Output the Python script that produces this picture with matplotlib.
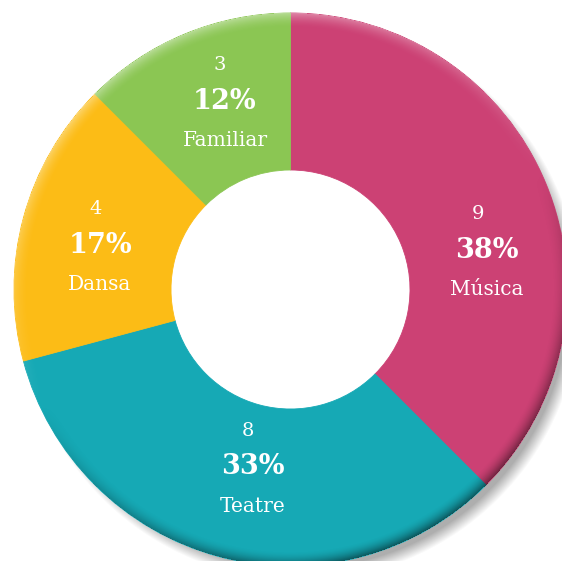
import matplotlib
matplotlib.use("Agg")
import matplotlib.pyplot as plt
import numpy as np

# data
categories = ["Música", "Teatre", "Dansa", "Familiar"]
counts = [9, 8, 4, 3]
percents = ["38%", "33%", "17%", "12%"]

colors = ["#CC4174", "#16A9B5", "#FCBC16", "#8BC653"]

W, H = 562, 561
cx, cy = 290.5, H - 289.5   # centre in data coords (y up)
R_out, R_in = 276.5, 119.5

# label anchor (centre line of the percentage), image coords
label_xy = [(487, 250), (253, 467), (100, 245), (225, 101)]
num_dx = [-9, -5, -4, -5]

fig = plt.figure(figsize=(W / 100, H / 100), dpi=100)
ax = fig.add_axes([0, 0, 1, 1])

# soft drop shadow, offset to lower right (outside the ring only)
yy, xx = np.mgrid[0:H, 0:W] + 0.5
dx, dy = xx - cx, yy - (H - cy)
r = np.hypot(dx, dy)
d_sh = np.hypot(dx - 10, dy - 11)
sh_alpha = np.clip((R_out + 4 - d_sh) / 13, 0, 1) * 0.7
sh_alpha[r < R_out - 10] = 0
shadow = np.zeros((H, W, 4))
shadow[..., :3] = 0.55
shadow[..., 3] = sh_alpha
ax.imshow(shadow, extent=(0, W, 0, H), origin="upper", zorder=1, interpolation="bilinear")

wedges, _ = ax.pie(counts, colors=colors, startangle=90, counterclock=False,
                   radius=R_out, center=(cx, cy),
                   wedgeprops=dict(width=R_out - R_in, linewidth=0))
for w, c in zip(wedges, colors):
    w.set_zorder(2)
    w.set_edgecolor(c)
    w.set_linewidth(0.6)

# rim shading: light at top-left, dark at bottom-right
band = 15.0
t = np.clip((r - (R_out - band)) / band, 0, 1) ** 1.8
t[r > R_out] = 0
ang = np.arctan2(-dy, dx)
light = np.cos(ang - np.deg2rad(115))
rim = np.zeros((H, W, 4))
hi = np.clip(light, 0, 1) * t * 0.4
lo = np.clip(-light, 0, 1) * t * 0.5
rim[..., :3] = np.where((hi > lo)[..., None], 1.0, 0.0)
rim[..., 3] = np.maximum(hi, lo)
ax.imshow(rim, extent=(0, W, 0, H), origin="upper", zorder=3, interpolation="bilinear")

for cnt, pct, name, (lx, ly), ndx in zip(counts, percents, categories, label_xy, num_dx):
    y = H - ly
    ax.text(lx + ndx, y + 36, str(cnt), color="white", fontsize=14, family="DejaVu Serif",
            ha="center", va="center", zorder=5)
    ax.text(lx, y, pct, color="white", fontsize=19.5, family="DejaVu Serif",
            fontweight="bold", ha="center", va="center", zorder=5)
    ax.text(lx, y - 39, name, color="white", fontsize=14.5, family="DejaVu Serif",
            ha="center", va="center", zorder=5)

ax.set_xlim(0, W)
ax.set_ylim(0, H)
ax.set_aspect("auto")
ax.axis("off")

fig.savefig("out.png", dpi=100, facecolor="white")
